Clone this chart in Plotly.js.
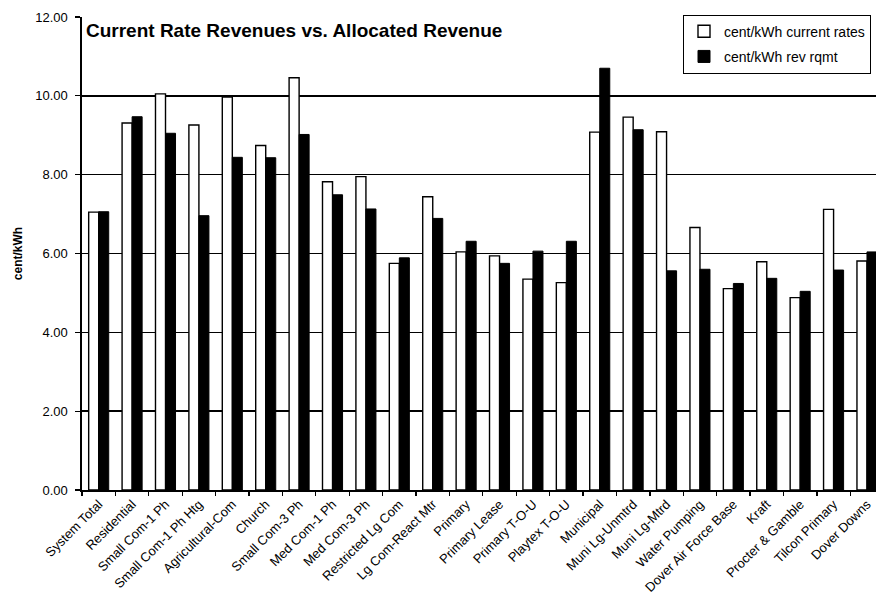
<!DOCTYPE html>
<html>
<head>
<meta charset="utf-8">
<script src="https://cdn.plot.ly/plotly-3.0.1.min.js"></script>
<style>
  html, body { margin: 0; padding: 0; background: #fff; }
  #chart { width: 876px; height: 595px; }
</style>
</head>
<body>
<div id="chart"></div>
<script>
// Rate classes along the x axis
const categories = [
  "System Total", "Residential", "Small Com-1 Ph", "Small Com-1 Ph Htg",
  "Agricultural-Com", "Church", "Small Com-3 Ph", "Med Com-1 Ph",
  "Med Com-3 Ph", "Restricted Lg Com", "Lg Com-React Mtr", "Primary",
  "Primary Lease", "Primary T-O-U", "Playtex T-O-U", "Municipal",
  "Muni Lg-Unmtrd", "Muni Lg-Mtrd", "Water Pumping", "Dover Air Force Base",
  "Kraft", "Procter & Gamble", "Tilcon Primary", "Dover Downs"
];

// cent/kWh at current rates
const currentRates = [
  7.05, 9.31, 10.05, 9.26, 9.97, 8.74, 10.46, 7.82,
  7.95, 5.75, 7.44, 6.04, 5.94, 5.35, 5.26, 9.08,
  9.46, 9.09, 6.66, 5.11, 5.79, 4.88, 7.12, 5.81
];

// cent/kWh revenue requirement
const revRqmt = [
  7.06, 9.47, 9.05, 6.96, 8.44, 8.43, 9.02, 7.49,
  7.13, 5.89, 6.89, 6.31, 5.75, 6.06, 6.31, 10.70,
  9.14, 5.56, 5.60, 5.24, 5.37, 5.04, 5.58, 6.04
];

const yTicks = [0, 2, 4, 6, 8, 10, 12];
const yTickText = yTicks.map(v => v.toFixed(2));

const FONT = "Arial, 'Liberation Sans', sans-serif";

const traces = [
  {
    type: "bar",
    name: "cent/kWh current rates",
    x: categories,
    y: currentRates,
    legendgroup: "a",
    marker: { color: "#ffffff", line: { color: "#000000", width: 1.4 } },
    hoverinfo: "x+y"
  },
  {
    type: "bar",
    name: "cent/kWh rev rqmt",
    x: categories,
    y: revRqmt,
    legendgroup: "b",
    marker: { color: "#000000", line: { color: "#000000", width: 1 } },
    hoverinfo: "x+y"
  }
];

const layout = {
  width: 876,
  height: 595,
  margin: { l: 82, r: 0, t: 17, b: 105, pad: 0 },
  paper_bgcolor: "#ffffff",
  plot_bgcolor: "#ffffff",
  barmode: "group",
  bargap: 0.4,
  bargroupgap: 0,
  font: { family: FONT, color: "#000000", size: 13 },
  title: {
    text: "<b>Current Rate Revenues vs. Allocated Revenue</b>",
    font: { family: FONT, size: 19, color: "#000000" },
    x: 86 / 876,
    xanchor: "left",
    xref: "container",
    y: 1 - 30 / 595,
    yanchor: "middle",
    yref: "container"
  },
  xaxis: {
    type: "category",
    range: [-0.5, 23.27],
    tickangle: -45,
    ticks: "outside",
    tickson: "boundaries",
    ticklen: 4,
    tickcolor: "#000000",
    tickwidth: 1.3,
    showgrid: false,
    showline: true,
    linecolor: "#000000",
    linewidth: 1.6,
    tickfont: { family: FONT, size: 13, color: "#000000" },
    fixedrange: true
  },
  yaxis: {
    range: [0, 12],
    tickvals: yTicks,
    ticktext: yTickText,
    ticks: "outside",
    ticklen: 5,
    ticklabelstandoff: 5,
    tickcolor: "#000000",
    tickwidth: 1.3,
    showgrid: true,
    gridcolor: "#000000",
    gridwidth: 1.5,
    zeroline: false,
    showline: true,
    mirror: true,
    linecolor: "#000000",
    linewidth: 1.6,
    tickfont: { family: FONT, size: 13, color: "#000000" },
    title: {
      text: "<b>cent/kWh</b>",
      font: { family: FONT, size: 12, color: "#000000" },
      standoff: 10
    },
    fixedrange: true
  },
  showlegend: true,
  legend: {
    x: (683 - 82) / 794,
    xanchor: "left",
    y: 1.005,
    yanchor: "top",
    bgcolor: "#ffffff",
    bordercolor: "#000000",
    borderwidth: 1,
    traceorder: "grouped",
    tracegroupgap: 4,
    itemwidth: 30,
    font: { family: FONT, size: 14, color: "#000000" }
  }
};

Plotly.newPlot("chart", traces, layout, { displayModeBar: false, staticPlot: true });
</script>
</body>
</html>
